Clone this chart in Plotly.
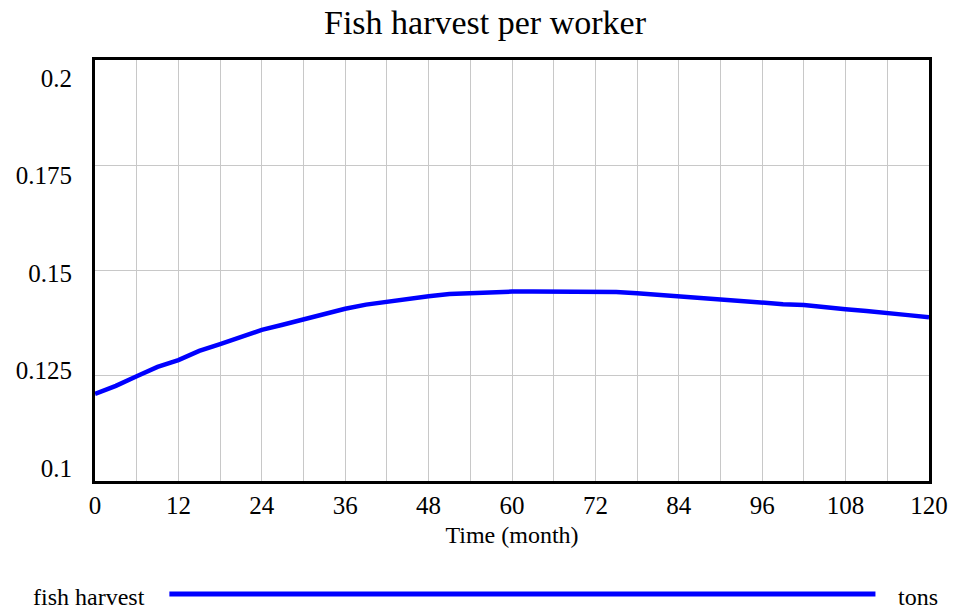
import plotly.graph_objects as go

# Simulation output: fish harvest per worker, sampled every 3 months
months = list(range(0, 121, 3))
fish_harvest = [
    0.1207, 0.1226, 0.1249, 0.1271, 0.1287, 0.1309, 0.1325, 0.1341, 0.1359,
    0.1371, 0.1384, 0.1397, 0.1409, 0.1419, 0.1426, 0.1433, 0.1439, 0.1444,
    0.1446, 0.1450, 0.1450, 0.1450, 0.1450, 0.1450, 0.1450, 0.1449, 0.1446,
    0.1442, 0.1438, 0.1434, 0.1430, 0.1428, 0.1424, 0.1420, 0.1418, 0.1412,
    0.1408, 0.1404, 0.1400, 0.1394, 0.1389,
]

x_ticks = list(range(0, 121, 12))
y_ticks = [0.1, 0.125, 0.15, 0.175, 0.2]
y_tick_text = ["0.1", "0.125", "0.15", "0.175", "0.2"]

series_name = "fish harvest"
series_unit = "tons"
title_text = "Fish harvest per worker"
x_title = "Time (month)"

FONT = "Liberation Serif"
BLUE = "#0000ff"
GRID = "#c8c8c8"

fig = go.Figure()
fig.add_trace(go.Scatter(
    x=months, y=fish_harvest, mode="lines",
    line=dict(color=BLUE, width=4.5),
    name=series_name, showlegend=False,
))
# label axis: tick labels spread evenly inside the frame
fig.add_trace(go.Scatter(
    x=months, y=fish_harvest, mode="lines", yaxis="y2",
    line=dict(width=0), hoverinfo="skip", showlegend=False,
))

fig.update_layout(
    width=960, height=612,
    margin=dict(l=95, r=24, t=60, b=131),
    paper_bgcolor="white", plot_bgcolor="white",
    font=dict(family=FONT, color="black", size=25),
    title=dict(text=title_text, x=485 / 960, xanchor="center", xref="container",
               y=1 - 22 / 612, yanchor="middle", yref="container",
               font=dict(size=34, family=FONT, color="black")),
    xaxis=dict(
        range=[0, 120], tickvals=x_ticks, ticks="",
        showgrid=True, gridcolor=GRID, gridwidth=1,
        minor=dict(dtick=6, showgrid=True, gridcolor=GRID, gridwidth=1),
        showline=True, linecolor="black", linewidth=3, mirror=True,
        zeroline=False,
        tickfont=dict(size=25, family=FONT, color="black"),
        title=dict(text=x_title, font=dict(size=24, family=FONT, color="black"),
                   standoff=9),
    ),
    yaxis=dict(
        range=[0.1, 0.2], dtick=0.025, showticklabels=False, ticks="",
        showgrid=True, gridcolor=GRID, gridwidth=1,
        showline=True, linecolor="black", linewidth=3, mirror=True,
        zeroline=False,
    ),
    yaxis2=dict(
        range=[0.1 - 13 / 3900, 0.1 + 408 / 3900], overlaying="y", side="left",
        tickvals=y_ticks, ticktext=y_tick_text, ticks="",
        showgrid=False, showline=False, zeroline=False,
        tickfont=dict(size=25, family=FONT, color="black"),
        ticklabelstandoff=22,
    ),
)

# legend row: name, key line, unit
fig.add_annotation(text=series_name, xref="paper", yref="paper",
                   x=(147 - 95) / 841, y=(481 - 597) / 421,
                   xanchor="right", yanchor="middle", showarrow=False,
                   font=dict(size=24, family=FONT, color="black"))
fig.add_shape(type="line", xref="paper", yref="paper",
              x0=(170 - 95) / 841, x1=(882 - 95) / 841,
              y0=(481 - 594) / 421, y1=(481 - 594) / 421,
              line=dict(color=BLUE, width=5))
fig.add_annotation(text=series_unit, xref="paper", yref="paper",
                   x=(903 - 95) / 841, y=(481 - 597) / 421,
                   xanchor="left", yanchor="middle", showarrow=False,
                   font=dict(size=24, family=FONT, color="black"))

fig.write_html("out.html")
